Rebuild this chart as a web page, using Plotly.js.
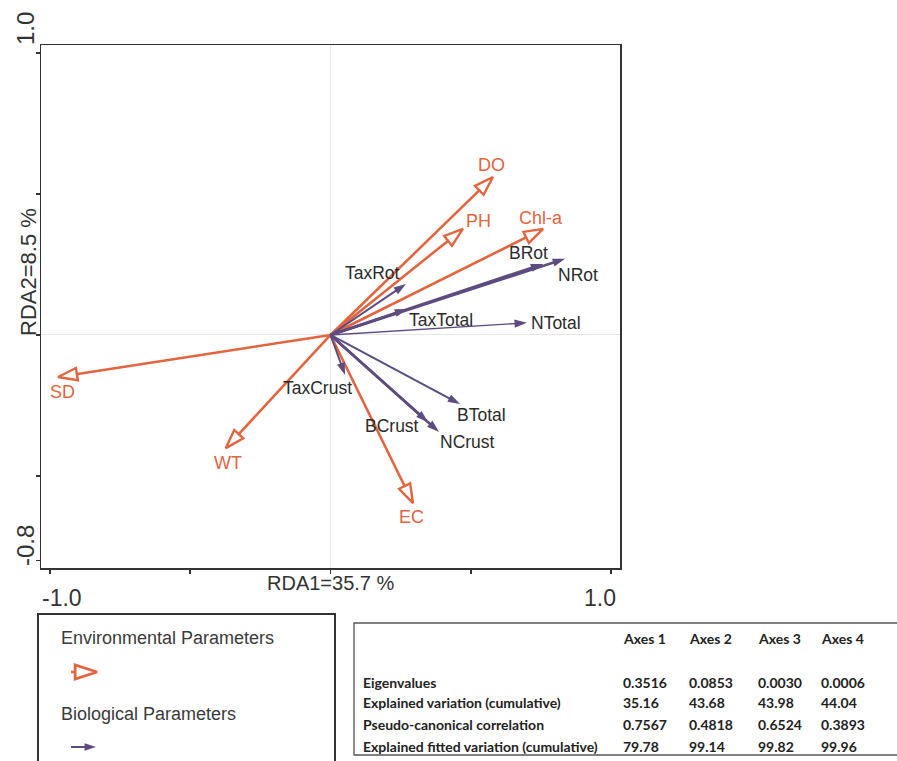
<!DOCTYPE html>
<html><head><meta charset="utf-8">
<script src="https://cdn.plot.ly/plotly-3.0.1.min.js"></script>
<style>html,body{margin:0;padding:0;background:#fff}</style>
</head><body><div id="chart" style="width:897px;height:761px"></div>
<script>
// ---------- data ----------
const envNames = ['DO', 'PH', 'Chl-a', 'SD', 'WT', 'EC'];
const envX = [0.579, 0.472, 0.758, -0.971, -0.373, 0.294];
const envY = [0.560, 0.376, 0.376, -0.149, -0.401, -0.596];

const bioNames = ['NRot', 'BRot', 'TaxRot', 'TaxTotal', 'NTotal', 'TaxCrust', 'BTotal', 'NCrust', 'BCrust'];
const bioX = [0.836, 0.758, 0.269, 0.273, 0.700, 0.052, 0.462, 0.387, 0.348];
const bioY = [0.270, 0.252, 0.181, 0.092, 0.043, -0.142, -0.245, -0.344, -0.309];

const xTitle = 'RDA1=35.7 %';
const yTitle = 'RDA2=8.5 %';
const xTickVals = [-1, -0.5, 0, 0.5, 1];
const yTickVals = [-0.8, -0.5, 0, 0.5, 1];
const xTickText = ['-1.0', '1.0'];
const yTickText = ['1.0', '-0.8'];

const legendLabels = ['Environmental Parameters', 'Biological Parameters'];

const tableHeader = ['Axes 1', 'Axes 2', 'Axes 3', 'Axes 4'];
const tableRowLabels = ['Eigenvalues', 'Explained variation (cumulative)', 'Pseudo-canonical correlation', 'Explained fitted variation (cumulative)'];
const eigenvalues = ['0.3516', '0.0853', '0.0030', '0.0006'];
const explainedVar = ['35.16', '43.68', '43.98', '44.04'];
const pseudoCorr = ['0.7567', '0.4818', '0.6524', '0.3893'];
const fittedVar = ['79.78', '99.14', '99.82', '99.96'];

// ---------- styles / layout geometry ----------
const W = 897, H = 761;
const PL = 41, PR = 620, PT = 45, PB = 568;
const xr = [-1.032, 1.032], yr = [-0.826, 1.028];
const pxX = (PR - PL) / (xr[1] - xr[0]), pxY = (PB - PT) / (yr[1] - yr[0]);
const ORANGE = '#e2653f', PURPLE = '#5d4c7f', TXT = '#2b2b2b', AX = '#333333';
const FONT = 'Liberation Sans, Arial, sans-serif';

// label offsets in pixels (dx right, dy down) relative to arrow tips
const envLabelOff = {'DO': [-1, -12], 'PH': [16, -8], 'Chl-a': [-2, -11], 'SD': [4, 15], 'WT': [2, 15], 'EC': [-1, 14]};
const bioLabelOff = {'NRot': [13, 16], 'BRot': [-15, -11], 'TaxRot': [-33, -11], 'TaxTotal': [34, 11], 'NTotal': [29, 0],
  'TaxCrust': [-28, 13], 'BTotal': [21, 11], 'NCrust': [28, 10], 'BCrust': [-36, 4]};
const bioWidth = {'NRot': 2.6, 'BRot': 2.6, 'TaxRot': 2, 'TaxTotal': 2.6, 'NTotal': 1.4, 'TaxCrust': 2, 'BTotal': 2, 'NCrust': 2.6, 'BCrust': 2.6};

function arrowParts(x, y, back) {
  const dx = x * pxX, dy = y * pxY;
  const L = Math.hypot(dx, dy);
  const ux = dx / L, uy = dy / L;
  return {bx: x - ux * back / pxX, by: y - uy * back / pxY, ang: Math.atan2(dx, dy) * 180 / Math.PI};
}

const traces = [];
const annotations = [];

// environmental arrows
const envAng = [];
envNames.forEach((n, i) => {
  const p = arrowParts(envX[i], envY[i], 18);
  envAng.push(p.ang);
  traces.push({x: [0, p.bx], y: [0, p.by], mode: 'lines', line: {color: ORANGE, width: 2.6},
    hoverinfo: 'skip', showlegend: false, xaxis: 'x', yaxis: 'y'});
  const o = envLabelOff[n];
  annotations.push({x: envX[i], y: envY[i], xref: 'x', yref: 'y', text: n, showarrow: false,
    xshift: o[0], yshift: -o[1], font: {family: FONT, size: 18, color: ORANGE}});
});
// biological arrows
const bioAng = [];
bioNames.forEach((n, i) => {
  const p = arrowParts(bioX[i], bioY[i], 8);
  bioAng.push(p.ang);
  traces.push({x: [0, p.bx], y: [0, p.by], mode: 'lines', line: {color: PURPLE, width: bioWidth[n]},
    hoverinfo: 'skip', showlegend: false, xaxis: 'x', yaxis: 'y'});
  const o = bioLabelOff[n];
  annotations.push({x: bioX[i], y: bioY[i], xref: 'x', yref: 'y', text: n, showarrow: false,
    xshift: o[0], yshift: -o[1], font: {family: FONT, size: 17.5, color: TXT}});
});
traces.push({x: bioX, y: bioY, mode: 'markers', hoverinfo: 'skip', showlegend: false,
  marker: {symbol: 'arrow', size: 13, color: PURPLE, angle: bioAng, line: {width: 0}}, xaxis: 'x', yaxis: 'y'});
traces.push({x: envX, y: envY, mode: 'markers', hoverinfo: 'skip', showlegend: false,
  marker: {symbol: 'arrow-open', size: 20, color: ORANGE, angle: envAng, line: {color: ORANGE, width: 2.4}}, xaxis: 'x', yaxis: 'y'});

// ---------- page overlay (pixel coordinates) ----------
function txt(x, y, t, size, opts) {
  annotations.push(Object.assign({x: x, y: y, xref: 'x2', yref: 'y2', text: t, showarrow: false,
    xanchor: 'center', yanchor: 'middle', font: {family: FONT, size: size, color: AX}}, opts || {}));
}
// axis titles and tick labels
txt(331, 583, xTitle, 20);
txt(28, 272, yTitle, 22, {textangle: -90});
txt(62, 598, xTickText[0], 23);
txt(600, 598, xTickText[1], 23);
txt(25, 29, yTickText[0], 24, {textangle: -90});
txt(25, 546, yTickText[1], 24, {textangle: -90});

// legend
txt(59, 638, legendLabels[0], 18, {xanchor: 'left', font: {family: FONT, size: 18, color: '#3a3a3a'}});
txt(59, 714, legendLabels[1], 18, {xanchor: 'left', font: {family: FONT, size: 18, color: '#3a3a3a'}});
traces.push({x: [71, 76], y: [672, 672], mode: 'lines', line: {color: ORANGE, width: 2.6}, xaxis: 'x2', yaxis: 'y2', hoverinfo: 'skip', showlegend: false});
traces.push({x: [97], y: [672], mode: 'markers', marker: {symbol: 'arrow-open', size: 23, color: ORANGE, angle: 90, line: {color: ORANGE, width: 2.8}}, xaxis: 'x2', yaxis: 'y2', hoverinfo: 'skip', showlegend: false});
traces.push({x: [71, 90], y: [747, 747], mode: 'lines', line: {color: PURPLE, width: 2}, xaxis: 'x2', yaxis: 'y2', hoverinfo: 'skip', showlegend: false});
traces.push({x: [96], y: [747], mode: 'markers', marker: {symbol: 'arrow', size: 12, color: PURPLE, angle: 90, line: {width: 0}}, xaxis: 'x2', yaxis: 'y2', hoverinfo: 'skip', showlegend: false});

// table
const TF = 'Lato, Liberation Sans, sans-serif';
const TS = 14;
const colX = [621, 687, 756, 819];
const rowY = [682, 702, 724, 746];
const tableValues = [eigenvalues, explainedVar, pseudoCorr, fittedVar];
tableHeader.forEach((h, j) => txt(colX[j], 638, '<b>' + h + '</b>', TS, {xanchor: 'left', font: {family: TF, size: TS, color: '#222'}}));
tableRowLabels.forEach((r, i) => {
  txt(361, rowY[i], '<b>' + r + '</b>', TS, {xanchor: 'left', font: {family: TF, size: TS, color: '#222'}});
  tableValues[i].forEach((v, j) => txt(colX[j], rowY[i], '<b>' + v + '</b>', TS, {xanchor: 'left', font: {family: TF, size: TS, color: '#222'}}));
});

const shapes = [
  {type: 'rect', xref: 'x2', yref: 'y2', x0: 38, x1: 335, y0: 614, y1: 790, line: {color: '#333', width: 2}},
  {type: 'rect', xref: 'x2', yref: 'y2', x0: 354, x1: 910, y0: 623, y1: 755, line: {color: '#555', width: 1.3}}
];

const layout = {
  width: W, height: H,
  margin: {l: 0, r: 0, t: 0, b: 0},
  paper_bgcolor: '#ffffff', plot_bgcolor: 'rgba(0,0,0,0)',
  showlegend: false,
  xaxis: {domain: [PL / W, PR / W], range: xr, tickvals: xTickVals, showticklabels: false,
    ticks: 'outside', ticklen: 4, tickwidth: 1.5, tickcolor: AX,
    showline: true, mirror: true, linecolor: AX, linewidth: 1.5,
    showgrid: false, zeroline: true, zerolinecolor: '#e6e6e6', zerolinewidth: 1, fixedrange: true, anchor: 'y'},
  yaxis: {domain: [1 - PB / H, 1 - PT / H], range: yr, tickvals: yTickVals, showticklabels: false,
    ticks: 'outside', ticklen: 4, tickwidth: 1.5, tickcolor: AX,
    showline: true, mirror: true, linecolor: AX, linewidth: 1.5,
    showgrid: false, zeroline: true, zerolinecolor: '#e6e6e6', zerolinewidth: 1, fixedrange: true, anchor: 'x'},
  xaxis2: {domain: [0, 1], range: [0, W], visible: false, fixedrange: true, anchor: 'y2'},
  yaxis2: {domain: [0, 1], range: [H, 0], visible: false, fixedrange: true, anchor: 'x2'},
  annotations: annotations,
  shapes: shapes
};

Plotly.newPlot('chart', traces, layout, {displayModeBar: false, staticPlot: true});
</script>
</body></html>
